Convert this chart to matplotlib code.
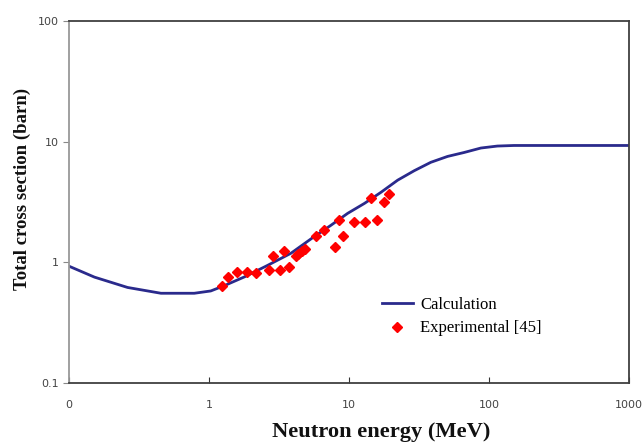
import numpy as np
import matplotlib.pyplot as plt

# calculated total cross section
calc_energy = [0.1, 0.152, 0.262, 0.454, 0.785, 1.03, 1.28, 1.8, 2.6, 3.85, 5.5, 7.44, 9.8, 12.9,
               16.9, 22.3, 29.3, 38.5, 50.7, 66.6, 87.7, 115.0, 151.0, 300.0, 600.0, 1000.0]
calc_xs = [0.93, 0.755, 0.62, 0.555, 0.555, 0.58, 0.64, 0.76, 0.94, 1.19, 1.6, 2.03, 2.55, 3.08,
           3.8, 4.8, 5.75, 6.75, 7.55, 8.14, 8.86, 9.2, 9.3, 9.3, 9.3, 9.3]

# experimental points [45]
exp_energy = [1.23, 1.36, 1.58, 1.86, 2.17, 2.70, 2.85, 3.2, 3.42, 3.73, 4.18, 4.35, 4.59, 4.87,
              5.81, 6.66, 7.94, 8.44, 9.1, 10.8, 13.0, 14.4, 15.8, 17.9, 19.4]
exp_xs = [0.64, 0.755, 0.83, 0.83, 0.82, 0.87, 1.12, 0.87, 1.24, 0.91, 1.12, 1.18, 1.24, 1.29,
          1.66, 1.85, 1.34, 2.24, 1.66, 2.17, 2.17, 3.4, 2.24, 3.18, 3.67]

xticks = [0.1, 1, 10, 100, 1000]
xtick_labels = ['0', '1', '10', '100', '1000']
yticks = [0.1, 1, 10, 100]
ytick_labels = ['0.1', '1', '10', '100']

W, H = 642, 446
fig = plt.figure(figsize=(W / 100, H / 100), dpi=100)
ax = fig.add_axes([0.1075, 0.141, 0.872, 0.812])

ax.plot(calc_energy, calc_xs, color='#2a2a8c', lw=2, label='Calculation')
ax.plot(exp_energy, exp_xs, 'D', color='red', ms=5, mec='red', ls='none', label='Experimental [45]')

ax.set_xscale('log')
ax.set_yscale('log')
ax.set_xlim(0.1, 1000)
ax.set_ylim(0.1, 100)
ax.set_xticks(xticks)
ax.set_xticklabels(xtick_labels)
ax.set_yticks(yticks)
ax.set_yticklabels(ytick_labels)
ax.minorticks_off()

ax.tick_params(axis='x', direction='in', length=4, color='#333333', labelsize=8, labelcolor='#444444', pad=12)
ax.tick_params(axis='y', direction='out', length=4, color='#888888', labelsize=8, labelcolor='#444444')
for s in ['top', 'right', 'bottom']:
    ax.spines[s].set_color('#404040')
    ax.spines[s].set_linewidth(1.3)
ax.spines['left'].set_color('#999999')
ax.spines['left'].set_linewidth(1.3)

# axis titles sit off-centre in the original, so place them directly
fig.text(381 / W, 1 - 432 / H, 'Neutron energy (MeV)', family='Liberation Serif',
         fontweight='bold', fontsize=16.2, ha='center', va='center', color='#111111')
fig.text(22 / W, 1 - 189 / H, 'Total cross section (barn)', family='Liberation Serif',
         fontweight='bold', fontsize=13.5, ha='center', va='center', rotation=90, color='#111111')

ax.legend(loc='upper left', bbox_to_anchor=(382 / W, 1 - 297 / H), bbox_transform=fig.transFigure,
          frameon=False, borderpad=0, borderaxespad=0,
          prop={'family': 'Liberation Serif', 'size': 12}, handlelength=1.86,
          handletextpad=0.42, labelspacing=0.45)

fig.savefig('out.png', dpi=100)
